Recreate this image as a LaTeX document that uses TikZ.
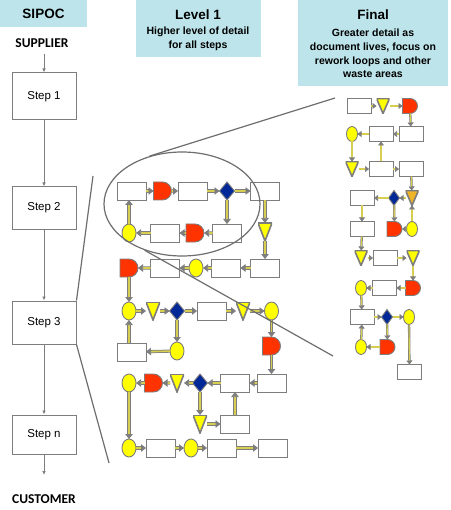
\documentclass[tikz,border=0pt]{standalone}
\usepackage{fontspec}
\setmainfont{Liberation Sans}
\newfontfamily\calfont{Carlito}
\usetikzlibrary{shapes.geometric,shapes.misc,arrows.meta}
\definecolor{hdrc}{RGB}{188,228,234}
\definecolor{bordc}{RGB}{125,125,125}
\definecolor{redc}{RGB}{255,51,0}
\definecolor{bluec}{RGB}{0,40,150}
\definecolor{yelc}{RGB}{255,255,0}
\definecolor{orc}{RGB}{240,180,40}
\definecolor{shaft}{RGB}{215,205,80}
\definecolor{linec}{RGB}{110,110,110}
\tikzset{
  hdr/.style={fill=hdrc, draw=none, inner sep=0pt},
  title/.style={font=\fontsize{13.5}{16}\selectfont\bfseries, inner sep=0pt},
  sub/.style={font=\fontsize{10.5}{13.6}\selectfont\bfseries, align=center, inner sep=0pt},
  stepbox/.style={draw=bordc, fill=white, line width=1pt, minimum width=64pt, inner sep=0pt, font=\fontsize{11.5}{14}\selectfont},
  thinarr/.style={draw=bordc, line width=1pt, -{Latex[length=4pt,width=3.5pt]}},
  endlbl/.style={font=\calfont\fontsize{13.5}{16}\selectfont\bfseries, inner sep=0pt},
  zoomline/.style={draw=linec, line width=1.2pt},
  base/.style={draw=bordc, line width=0.9pt, inner sep=0pt, outer sep=0pt},
  bx/.style={base, rectangle, fill=white},
  dl/.style={base, rounded rectangle, rounded rectangle left arc=none, fill=redc},
  ov/.style={base, ellipse, fill=yelc},
  dm/.style={base, diamond, fill=bluec},
  tr/.style={rectangle, inner sep=0pt, outer sep=0pt, path picture={\filldraw[fill=#1, draw=bordc, line width=1.6pt] (path picture bounding box.north west) -- (path picture bounding box.north east) -- (path picture bounding box.south) -- cycle;}},
  tr/.default=yelc,
  Lb/.style={bx, minimum width=29pt, minimum height=18pt},
  Ld/.style={dl, minimum width=15pt, minimum height=18pt},
  Lo/.style={ov, minimum width=14pt, minimum height=18pt},
  Lm/.style={dm, minimum width=15pt, minimum height=18pt},
  Lt/.style={tr, minimum width=14pt, minimum height=18pt},
  Fb/.style={bx, minimum width=24pt, minimum height=15pt},
  Fd/.style={dl, minimum width=12pt, minimum height=15pt},
  Fo/.style={ov, minimum width=11pt, minimum height=15pt},
  Fm/.style={dm, minimum width=11pt, minimum height=15pt},
  Ft/.style={tr=#1, minimum width=13pt, minimum height=15pt},
  Ft/.default=yelc,
  fL/.style={draw=bordc, double=shaft, double distance=1.6pt, line width=0.75pt, -{Triangle[length=5pt,width=7.5pt]}},
  fF/.style={draw=bordc, double=shaft, double distance=1.1pt, line width=0.6pt, -{Triangle[length=4pt,width=6pt]}}
}
\begin{document}
\begin{tikzpicture}[x=1pt,y=-1pt]
\useasboundingbox[fill=white] (0,0) rectangle (450,510);
% headers
\node[hdr, minimum width=87pt, minimum height=27pt] (sipocbox) at (43.5,13.5) {};
\node[title] (sipoc) at (43.5,14) {SIPOC};
\node[hdr, minimum width=125pt, minimum height=57pt] (lvlbox) at (198.5,28.5) {};
\node[title] (lvlt) at (198,15) {Level 1};
\node[sub] (lvls) at (198,39) {Higher level of detail\\for all steps};
\node[hdr, minimum width=150pt, minimum height=86pt] (finbox) at (373,43) {};
\node[title] (fint) at (373,15) {Final};
\node[sub] (fins) at (373,53.5) {Greater detail as\\document lives, focus on\\rework loops and other\\waste areas};
% SIPOC column
\node[endlbl] (sup) at (42,43) {SUPPLIER};
\node[stepbox, minimum height=47pt] (s1) at (44,96.5) {Step 1};
\node[stepbox, minimum height=42pt] (s2) at (44,208) {Step 2};
\node[stepbox, minimum height=43pt] (s3) at (44,322.5) {Step 3};
\node[stepbox, minimum height=39pt] (sn) at (44,434.5) {Step n};
\coordinate (cuarr) at (44,475);
\node[endlbl] (cust) at (44,499) {CUSTOMER};
\draw[thinarr, shorten <=6pt] (sup.south -| s1.north) -- (s1.north);
\draw[thinarr] (s1) -- (s2);
\draw[thinarr] (s2) -- (s3);
\draw[thinarr] (s3) -- (sn);
\draw[thinarr] (sn) -- (cuarr);
% Level 1 nodes
\node[Lb] (r1) at (131.5,191) {};
\node[Ld] (d1) at (162.5,191) {};
\node[Lb] (r2) at (192.5,191) {};
\node[Lm] (m1) at (227,191) {};
\node[Lb] (r3) at (265,191) {};
\node[Lo] (o1) at (129,233) {};
\node[Lb] (r4) at (165,233) {};
\node[Ld] (d2) at (195,233) {};
\node[Lb] (r5) at (227,233) {};
\node[Lt] (t1) at (265,232) {};
\node[Ld] (d3) at (129,268) {};
\node[Lb] (r6) at (165,268) {};
\node[Lo] (o2) at (196,268) {};
\node[Lb] (r7) at (226,268) {};
\node[Lb] (r8) at (265,268) {};
\node[Lo] (o3) at (129,311) {};
\node[Lt] (t2) at (153,311) {};
\node[Lm] (m2) at (177,311) {};
\node[Lb] (r9) at (211.5,311) {};
\node[Lt] (t3) at (243,311) {};
\node[Lo] (o4) at (271.5,311) {};
\node[Lo] (o5) at (177,351) {};
\node[Lb] (r10) at (131.5,352) {};
\node[Ld] (d4) at (271.5,346) {};
\node[Lo] (o6) at (129,383) {};
\node[Ld] (d5) at (153.5,383) {};
\node[Lt] (t4) at (177,383) {};
\node[Lm] (m3) at (200,383) {};
\node[Lb] (r11) at (235,383) {};
\node[Lb] (r12) at (271.5,383) {};
\node[Lt] (t5) at (200,424) {};
\node[Lb] (r16) at (235,424) {};
\node[Lo] (o7) at (129,448) {};
\node[Lb] (r13) at (160.5,448) {};
\node[Lo] (o8) at (191,448) {};
\node[Lb] (r14) at (221.5,448) {};
\node[Lb] (r15) at (272.5,448) {};
% Level 1 connectors
\draw[fL] (r1) -- (d1);
\draw[fL] (d1) -- (r2);
\draw[fL] (r2) -- (m1);
\draw[fL] (m1) -- (r3);
\draw[fL] (m1) -- (r5);
\draw[fL] (r3) -- (t1);
\draw[fL] (t1) -- (r8);
\draw[fL] (r5) -- (d2);
\draw[fL] (d2) -- (r4);
\draw[fL] (r4) -- (o1);
\draw[fL] (o1.north) -- (o1 |- r1.south);
\draw[fL] (r8) -- (r7);
\draw[fL] (r7) -- (o2);
\draw[fL] (o2) -- (r6);
\draw[fL] (r6) -- (d3);
\draw[fL] (d3) -- (o3);
\draw[fL] (o3) -- (t2);
\draw[fL] (t2) -- (m2);
\draw[fL] (m2) -- (r9);
\draw[fL] (r9) -- (t3);
\draw[fL] (t3) -- (o4);
\draw[fL] (m2) -- (o5);
\draw[fL] (o5) -- (r10);
\draw[fL] (o3 |- r10.north) -- (o3.south);
\draw[fL] (o4) -- (d4);
\draw[fL] (d4) -- (r12);
\draw[fL] (r12) -- (r11);
\draw[fL] (r11) -- (m3);
\draw[fL] (m3) -- (t4);
\draw[fL] (t4) -- (d5);
\draw[fL] (d5) -- (o6);
\draw[fL] (m3) -- (t5);
\draw[fL] (t5) -- (r16);
\draw[fL] (r16) -- (r11);
\draw[fL] (o6) -- (o7);
\draw[fL] (o7) -- (r13);
\draw[fL] (r13) -- (o8);
\draw[fL] (o8) -- (r14);
\draw[fL] (r14) -- (r15);
% Final nodes
\node[Fb] (fa1) at (359,106) {};
\node[Ft] (fa2) at (383,106) {};
\node[Fd] (fa3) at (410,106) {};
\node[Fo] (fb1) at (352,134) {};
\node[Fb] (fb2) at (381,134) {};
\node[Fb] (fb3) at (411,134) {};
\node[Ft] (fc1) at (352,169) {};
\node[Fb] (fc2) at (381,169) {};
\node[Fb] (fc3) at (411,169) {};
\node[Fb] (fd1) at (362,198) {};
\node[Fm] (fd2) at (394,198) {};
\node[Ft=orc] (fd3) at (412,198) {};
\node[Fb] (fe1) at (362,229) {};
\node[Fd] (fe2) at (394.5,229) {};
\node[Fo] (fe3) at (412,229) {};
\node[Ft] (ff1) at (361,258) {};
\node[Fb] (ff2) at (385,258) {};
\node[Ft] (ff3) at (413,258) {};
\node[Fo] (fg1) at (361,288) {};
\node[Fb] (fg2) at (384.5,288) {};
\node[Fd] (fg3) at (413,288) {};
\node[Fb] (fh1) at (362,317) {};
\node[Fm] (fh2) at (387,317) {};
\node[Fo] (fh3) at (409,317) {};
\node[Fo] (fi1) at (361,347) {};
\node[Fd] (fi2) at (387.5,347) {};
\node[Fb] (fj1) at (409.5,372) {};
% Final connectors
\draw[fF] (fa1) -- (fa2);
\draw[fF] (fa2) -- (fa3);
\draw[fF] (fa3) -- (fb3);
\draw[fF] (fb3) -- (fb2);
\draw[fF] (fb2) -- (fb1);
\draw[fF] (fb1) -- (fc1);
\draw[fF] (fc1) -- (fc2);
\draw[fF] (fc2) -- (fc3);
\draw[fF] (fc2) -- (fb2);
\draw[fF] (fc3) -- (fd3);
\draw[fF] (fd3) -- (fd2);
\draw[fF] (fd2) -- (fd1);
\draw[fF] (fe3) -- (fd3);
\draw[fF] (fd2) -- (fe2);
\draw[fF] (fe3) -- (fe2);
\draw[fF] (fd1) -- (fe1);
\draw[fF] (fe1) -- (ff1);
\draw[fF] (ff1) -- (ff2);
\draw[fF] (ff2) -- (ff3);
\draw[fF] (ff3) -- (fg3);
\draw[fF] (fg3) -- (fg2);
\draw[fF] (fg2) -- (fg1);
\draw[fF] (fg1) -- (fh1);
\draw[fF] (fh1) -- (fh2);
\draw[fF] (fh2) -- (fh3);
\draw[fF] (fh2) -- (fi2);
\draw[fF] (fi2) -- (fi1);
\draw[fF] (fi1) -- (fh1);
\draw[fF] (fh3) -- (fj1);
% zoom ellipse and lines
\node[draw=linec, line width=1.2pt, ellipse, minimum width=156pt, minimum height=104pt, inner sep=0pt] (zoomell) at (182,204) {};
\coordinate (fz1) at (335,98);
\coordinate (fz2) at (333,356);
\draw[zoomline] (zoomell.124) -- (fz1);
\draw[zoomline] (zoomell.231) -- (fz2);
\coordinate (z3a) at (93,176);
\coordinate (z3b) at (109,463);
\draw[zoomline] (s3.north east) -- (z3a);
\draw[zoomline] (s3.south east) -- (z3b);
\end{tikzpicture}
\end{document}
